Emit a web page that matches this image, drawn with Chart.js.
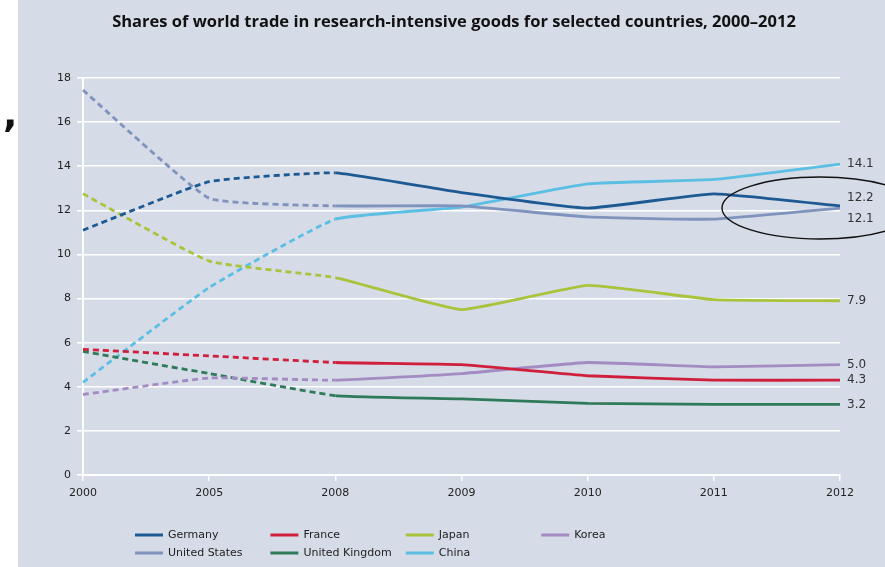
<!DOCTYPE html>
<html>
<head>
<meta charset="utf-8">
<script src="https://cdn.jsdelivr.net/npm/chart.js@4.4.1/dist/chart.umd.min.js"></script>
<style>
  html, body { margin: 0; padding: 0; background: #fff; }
  #wrap { position: relative; width: 885px; height: 567px; }
  #virgula { position: absolute; left: 3px; top: 92px; font: bold 38px "DejaVu Sans", sans-serif; color: #111; }
</style>
</head>
<body>
<div id="wrap">
  <canvas id="grafico" width="885" height="567"></canvas>
  <div id="virgula">,</div>
</div>
<script>
// dados
const anos = ['2000', '2005', '2008', '2009', '2010', '2011', '2012'];
const alemanha = [11.1, 13.3, 13.7, 12.8, 12.1, 12.75, 12.2];
const franca = [5.7, 5.4, 5.1, 5.0, 4.5, 4.3, 4.3];
const japao = [12.75, 9.7, 8.95, 7.5, 8.6, 7.95, 7.9];
const coreia = [3.65, 4.4, 4.3, 4.6, 5.1, 4.9, 5.0];
const eua = [17.45, 12.55, 12.2, 12.2, 11.7, 11.6, 12.1];
const reinoUnido = [5.6, 4.6, 3.6, 3.45, 3.25, 3.2, 3.2];
const china = [4.2, 8.5, 11.6, 12.15, 13.2, 13.4, 14.1];
const rotulosFinais = ['12.2', '4.3', '7.9', '5.0', '12.1', '3.2', '14.1'];
const titulo = 'Shares of world trade in research-intensive goods for selected countries, 2000\u20132012';

function serie(nome, dados, cor) {
    return {
        label: nome,
        data: dados,
        borderColor: cor,
        backgroundColor: cor,
        borderWidth: 2.8,
        pointRadius: 0,
        tension: 0.12,
        segment: {
            borderDash: ctx => ctx.p1DataIndex <= 2 ? [6, 4] : undefined
        }
    };
}

const dados1 = {
    labels: anos,
    datasets: [
        serie('Germany', alemanha, '#1d5a93'),
        serie('France', franca, '#cf1f3c'),
        serie('Japan', japao, '#a9c43c'),
        serie('Korea', coreia, '#a48cc2'),
        serie('United States', eua, '#7f93bd'),
        serie('United Kingdom', reinoUnido, '#2f7a58'),
        serie('China', china, '#5bbfe4')
    ]
};

const fundo = {
    id: 'fundo',
    beforeDraw(chart) {
        const c = chart.ctx;
        c.save();
        c.fillStyle = '#d5dbe7';
        c.fillRect(18, 0, chart.width - 18, chart.height);
        c.fillStyle = '#111';
        c.font = 'bold 16.5px "Liberation Sans Narrow", "Open Sans", sans-serif';
        c.textAlign = 'center';
        c.textBaseline = 'middle';
        c.fillText(titulo, 454, 22);
        c.restore();
    }
};

const extras = {
    id: 'extras',
    afterDraw(chart) {
        const c = chart.ctx;
        const xs = chart.scales.x, ys = chart.scales.y;
        const ultimo = anos.length - 1;
        const xFim = xs.getPixelForValue(ultimo);
        c.save();
        // rotulos no fim das linhas
        c.font = '12px "DejaVu Sans", sans-serif';
        c.fillStyle = '#333';
        c.textBaseline = 'middle';
        c.textAlign = 'left';
        const ajuste = { 'Germany': -8, 'United States': 11 };
        chart.data.datasets.forEach((ds, i) => {
            const y = ys.getPixelForValue(ds.data[ultimo]) + (ajuste[ds.label] || 0);
            c.fillText(rotulosFinais[i], xFim + 7, y);
        });
        // elipse
        c.strokeStyle = '#111';
        c.lineWidth = 1.4;
        c.beginPath();
        c.ellipse(xFim - 20, ys.getPixelForValue(12.15) + 1, 98, 31, 0, 0, Math.PI * 2);
        c.stroke();
        // legenda em colunas
        c.font = '11px "DejaVu Sans", sans-serif';
        c.fillStyle = '#222';
        chart.data.datasets.forEach((ds, i) => {
            const col = i < 4 ? i : i - 4;
            const lin = i < 4 ? 0 : 1;
            const x = 135 + col * 135.4;
            const y = 535 + lin * 18;
            c.strokeStyle = ds.borderColor;
            c.lineWidth = 3;
            c.beginPath();
            c.moveTo(x, y);
            c.lineTo(x + 28, y);
            c.stroke();
            c.fillText(ds.label, x + 33, y);
        });
        c.restore();
    }
};

const config = {
    type: 'line',
    data: dados1,
    plugins: [fundo, extras],
    options: {
        responsive: false,
        animation: false,
        layout: { padding: { left: 18, right: 45, top: 78, bottom: 0 } },
        plugins: {
            legend: { display: false },
            tooltip: { enabled: false },
            title: { display: false }
        },
        scales: {
            x: {
                afterFit(scale) { scale.height = 92; },
                grid: { drawOnChartArea: false, drawTicks: true, tickLength: 6, color: '#ffffff', lineWidth: 1.5 },
                border: { color: '#ffffff', width: 2 },
                ticks: { color: '#222', padding: 6, font: { family: '"DejaVu Sans", sans-serif', size: 11 }, maxRotation: 0 }
            },
            y: {
                min: 0,
                max: 18,
                afterFit(scale) { scale.width = 65; },
                grid: { color: '#ffffff', lineWidth: 1.6, tickLength: 6 },
                border: { color: '#ffffff', width: 2 },
                ticks: { stepSize: 2, color: '#222', padding: 6, font: { family: '"DejaVu Sans", sans-serif', size: 11 } }
            }
        }
    }
};

var ctx = document.getElementById('grafico').getContext('2d');
let myChart = new Chart(ctx, config);
</script>
</body>
</html>
